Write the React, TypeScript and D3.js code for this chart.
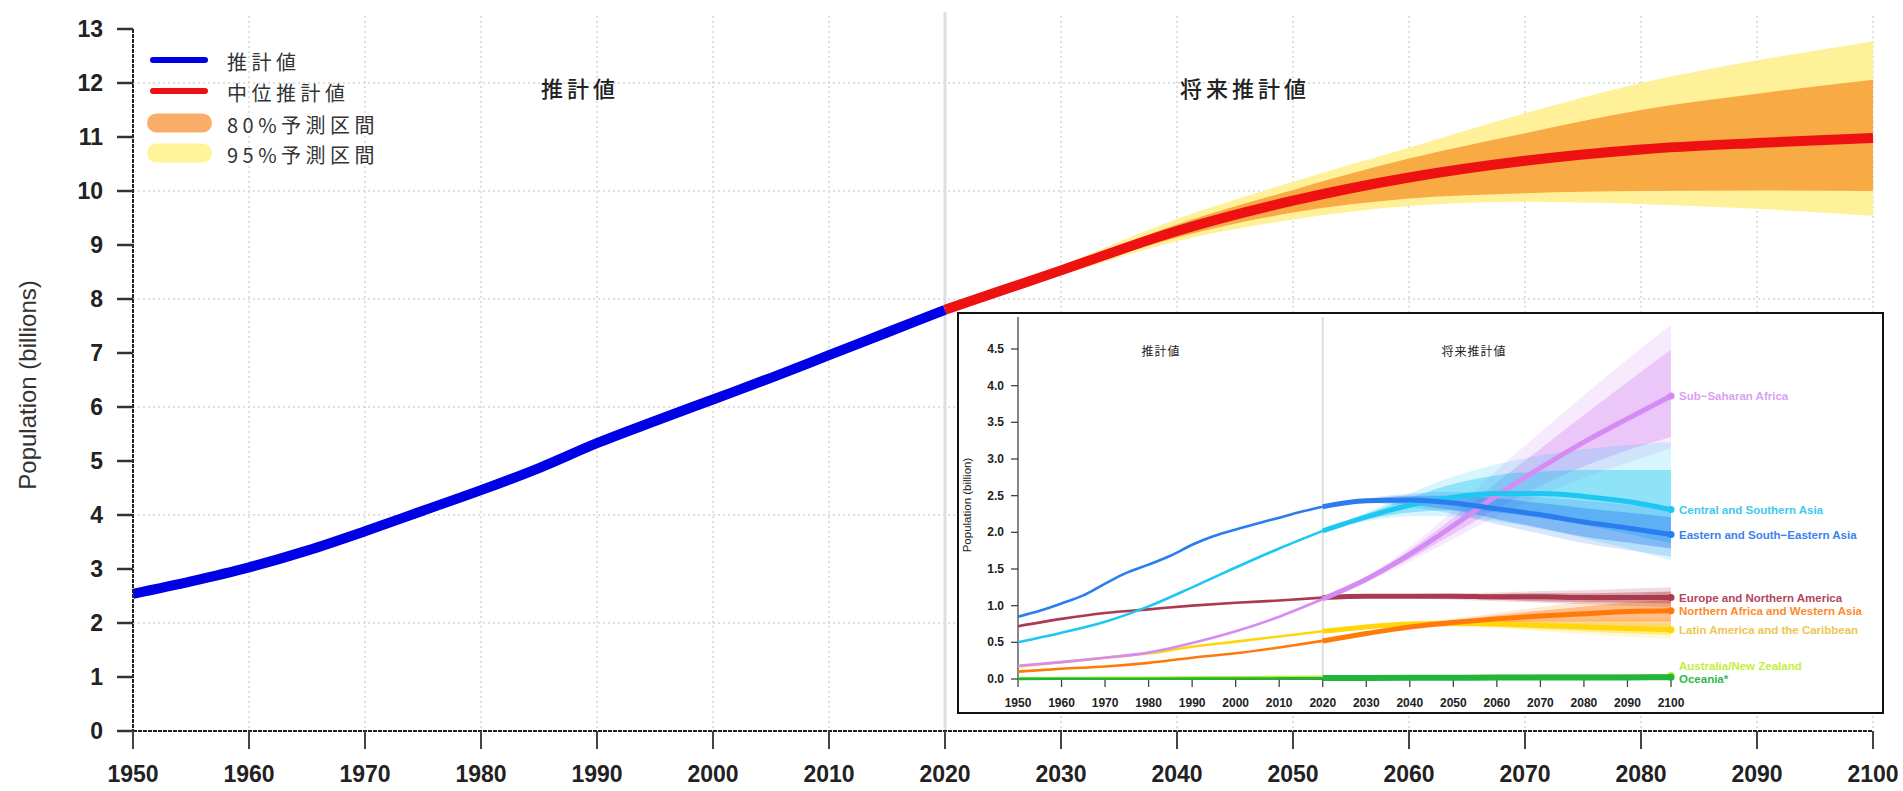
import React from "react";
import * as d3 from "d3";

const W = 1903;
const H = 791;
const FONT = "'Liberation Sans', Arial, Helvetica, sans-serif";
const CJK = "'Noto Sans CJK JP', 'Noto Sans', sans-serif";

// ---------- main chart data (world population, billions) ----------
const HIST_YEARS = [1950, 1955, 1960, 1965, 1970, 1975, 1980, 1985, 1990, 1995, 2000, 2005, 2010, 2015, 2020];
const WORLD_EST = [2.54, 2.77, 3.03, 3.34, 3.7, 4.08, 4.46, 4.87, 5.33, 5.74, 6.14, 6.54, 6.96, 7.38, 7.8];
const PROJ_YEARS = [2020, 2030, 2040, 2050, 2060, 2070, 2080, 2090, 2100];
const WORLD_MEDIAN = [7.8, 8.53, 9.26, 9.82, 10.25, 10.56, 10.77, 10.89, 10.98];
const WORLD_80_LO = [7.8, 8.47, 9.14, 9.6, 9.86, 9.96, 10.0, 10.01, 10.0];
const WORLD_80_HI = [7.8, 8.58, 9.38, 10.02, 10.6, 11.07, 11.5, 11.8, 12.06];
const WORLD_95_LO = [7.8, 8.44, 9.07, 9.47, 9.72, 9.8, 9.76, 9.67, 9.54];
const WORLD_95_HI = [7.8, 8.62, 9.48, 10.17, 10.8, 11.44, 12.0, 12.42, 12.77];
const X_TICKS = [1950, 1960, 1970, 1980, 1990, 2000, 2010, 2020, 2030, 2040, 2050, 2060, 2070, 2080, 2090, 2100];
const Y_TICKS = [0, 1, 2, 3, 4, 5, 6, 7, 8, 9, 10, 11, 12, 13];
const Y_GRID = [2, 4, 6, 8, 10, 12];
const LEGEND_LABELS = ["推計値", "中位推計値", "80%予測区間", "95%予測区間"];
const PERIOD_LABELS = ["推計値", "将来推計値"];

// ---------- inset data (SDG regions, billions) ----------
const INSET_HIST10 = [1950, 1960, 1970, 1980, 1990, 2000, 2010, 2020];
const INSET_HIST5 = [1950, 1955, 1960, 1965, 1970, 1975, 1980, 1985, 1990, 1995, 2000, 2005, 2010, 2015, 2020];
const INSET_X_TICKS = [1950, 1960, 1970, 1980, 1990, 2000, 2010, 2020, 2030, 2040, 2050, 2060, 2070, 2080, 2090, 2100];
const INSET_Y_TICKS = [0, 0.5, 1, 1.5, 2, 2.5, 3, 3.5, 4, 4.5];

const SSA = {
  name: "Sub\u2212Saharan Africa",
  hist: [0.18, 0.23, 0.29, 0.36, 0.49, 0.65, 0.85, 1.09],
  med: [1.09, 1.36, 1.7, 2.09, 2.5, 2.88, 3.23, 3.55, 3.86],
  lo80: [1.09, 1.34, 1.64, 1.98, 2.32, 2.63, 2.9, 3.12, 3.3],
  hi80: [1.09, 1.38, 1.76, 2.2, 2.68, 3.14, 3.6, 4.05, 4.49],
  lo95: [1.09, 1.32, 1.6, 1.91, 2.22, 2.5, 2.74, 2.95, 3.15],
  hi95: [1.09, 1.4, 1.8, 2.3, 2.85, 3.36, 3.87, 4.36, 4.83],
};
const CSA = {
  name: "Central and Southern Asia",
  hist: [0.5, 0.63, 0.78, 0.99, 1.25, 1.52, 1.78, 2.02],
  med: [2.02, 2.21, 2.37, 2.48, 2.53, 2.53, 2.49, 2.42, 2.31],
  lo80: [2.02, 2.17, 2.27, 2.3, 2.27, 2.2, 2.1, 1.98, 1.85],
  hi80: [2.02, 2.25, 2.47, 2.66, 2.78, 2.83, 2.85, 2.85, 2.85],
  lo95: [2.02, 2.15, 2.22, 2.22, 2.15, 2.05, 1.92, 1.78, 1.62],
  hi95: [2.02, 2.27, 2.53, 2.76, 2.93, 3.05, 3.13, 3.19, 3.23],
};
const ESEA = {
  name: "Eastern and South\u2212Eastern Asia",
  hist: [0.85, 0.93, 1.03, 1.14, 1.3, 1.45, 1.56, 1.68, 1.83, 1.95, 2.04, 2.12, 2.2, 2.28, 2.35],
  med: [2.35, 2.43, 2.44, 2.4, 2.32, 2.24, 2.14, 2.06, 1.97],
  lo80: [2.35, 2.41, 2.38, 2.3, 2.18, 2.06, 1.94, 1.86, 1.78],
  hi80: [2.35, 2.45, 2.5, 2.5, 2.46, 2.4, 2.33, 2.27, 2.21],
  lo95: [2.35, 2.4, 2.35, 2.25, 2.11, 1.98, 1.85, 1.76, 1.67],
  hi95: [2.35, 2.46, 2.53, 2.55, 2.53, 2.48, 2.43, 2.38, 2.33],
};
const ENA = {
  name: "Europe and Northern America",
  hist: [0.72, 0.82, 0.9, 0.95, 1.0, 1.04, 1.07, 1.11],
  med: [1.11, 1.13, 1.13, 1.13, 1.12, 1.12, 1.11, 1.11, 1.11],
  lo80: [1.11, 1.12, 1.11, 1.1, 1.08, 1.06, 1.05, 1.04, 1.03],
  hi80: [1.11, 1.14, 1.15, 1.15, 1.16, 1.17, 1.17, 1.18, 1.19],
  lo95: [1.11, 1.11, 1.1, 1.08, 1.06, 1.04, 1.02, 1.0, 0.98],
  hi95: [1.11, 1.14, 1.16, 1.17, 1.18, 1.2, 1.21, 1.23, 1.25],
};
const NAWA = {
  name: "Northern Africa and Western Asia",
  hist: [0.1, 0.14, 0.17, 0.22, 0.29, 0.35, 0.43, 0.52],
  med: [0.52, 0.62, 0.71, 0.77, 0.82, 0.86, 0.89, 0.92, 0.93],
  lo80: [0.52, 0.61, 0.69, 0.74, 0.77, 0.78, 0.78, 0.78, 0.78],
  hi80: [0.52, 0.63, 0.73, 0.8, 0.87, 0.93, 0.99, 1.04, 1.08],
  lo95: [0.52, 0.6, 0.68, 0.72, 0.74, 0.74, 0.73, 0.71, 0.68],
  hi95: [0.52, 0.64, 0.74, 0.82, 0.9, 0.98, 1.06, 1.13, 1.2],
};
const LAC = {
  name: "Latin America and the Caribbean",
  hist: [0.17, 0.23, 0.29, 0.35, 0.44, 0.51, 0.58, 0.65],
  med: [0.65, 0.71, 0.75, 0.76, 0.75, 0.73, 0.71, 0.69, 0.67],
  lo80: [0.65, 0.7, 0.73, 0.73, 0.71, 0.68, 0.65, 0.62, 0.6],
  hi80: [0.65, 0.72, 0.77, 0.79, 0.79, 0.78, 0.77, 0.77, 0.76],
  lo95: [0.65, 0.7, 0.72, 0.71, 0.69, 0.65, 0.61, 0.58, 0.55],
  hi95: [0.65, 0.72, 0.78, 0.81, 0.81, 0.81, 0.81, 0.82, 0.82],
};
const ANZ = {
  name: "Australia/New Zealand",
  hist: [0.01, 0.012, 0.015, 0.017, 0.02, 0.023, 0.026, 0.03],
  med: [0.03, 0.033, 0.036, 0.039, 0.041, 0.043, 0.045, 0.047, 0.049],
  lo80: [0.03, 0.032, 0.035, 0.037, 0.038, 0.039, 0.04, 0.041, 0.041],
  hi80: [0.03, 0.034, 0.037, 0.041, 0.044, 0.047, 0.05, 0.053, 0.056],
  lo95: [0.03, 0.032, 0.034, 0.036, 0.037, 0.037, 0.038, 0.038, 0.037],
  hi95: [0.03, 0.034, 0.038, 0.042, 0.046, 0.05, 0.054, 0.058, 0.061],
};
const OCE = {
  name: "Oceania*",
  hist: [0.002, 0.003, 0.003, 0.004, 0.005, 0.006, 0.008, 0.01],
  med: [0.012, 0.014, 0.016, 0.017, 0.019, 0.02, 0.021, 0.022, 0.023],
  lo80: [0.012, 0.013, 0.015, 0.016, 0.017, 0.018, 0.018, 0.019, 0.019],
  hi80: [0.012, 0.015, 0.017, 0.018, 0.02, 0.022, 0.024, 0.025, 0.027],
  lo95: [0.012, 0.013, 0.014, 0.015, 0.016, 0.017, 0.017, 0.017, 0.017],
  hi95: [0.012, 0.015, 0.017, 0.019, 0.021, 0.023, 0.025, 0.027, 0.029],
};
const INSET_SERIES = [ANZ, OCE, LAC, NAWA, ENA, SSA, CSA, ESEA];
const INSET_HIST_YEARS = [INSET_HIST10, INSET_HIST10, INSET_HIST10, INSET_HIST10, INSET_HIST10, INSET_HIST10, INSET_HIST10, INSET_HIST5];
const INSET_COLORS = ["#b8f020", "#22b53c", "#ffd60a", "#ff7a0a", "#ab3a50", "#d48cf2", "#1ec6f2", "#2a7cef"];
const INSET_LABEL_COLORS = ["#c2ef3c", "#2fb848", "#f0c54e", "#ff8a2a", "#b4455c", "#d9a2f0", "#3ccaf0", "#3b82ee"];
const INSET_LABEL_DY = [-9, 2, 0, 0, 0, 0, 0, 0];
const INSET_PROJ_WIDTH = [2.5, 6, 5, 5, 5, 5, 5, 5];

function lineGen(years: number[], sx: any, sy: any) {
  return d3
    .line<number>()
    .x((_, i) => sx(years[i]))
    .y((d) => sy(d))
    .curve(d3.curveMonotoneX);
}
function areaGen(years: number[], lo: number[], sx: any, sy: any) {
  return d3
    .area<number>()
    .x((_, i) => sx(years[i]))
    .y0((_, i) => sy(lo[i]))
    .y1((d) => sy(d))
    .curve(d3.curveMonotoneX);
}

export default function App() {
  const x = d3.scaleLinear().domain([1950, 2100]).range([133, 1873]);
  const y = d3.scaleLinear().domain([0, 13]).range([731, 29]);

  const ix = d3.scaleLinear().domain([1950, 2100]).range([1018, 1671]);
  const iy = d3.scaleLinear().domain([0, 4.5]).range([679, 349]);

  const legendY = [60, 91, 123, 153];

  return (
    <svg
      width={W}
      height={H}
      viewBox={`0 0 ${W} ${H}`}
      style={{ position: "absolute", left: 0, top: 0, background: "#fff" }}
    >
      <rect x={0} y={0} width={W} height={H} fill="#fff" />

      {/* grid */}
      {X_TICKS.slice(1).map((t) => (
        <line key={"vg" + t} x1={x(t)} x2={x(t)} y1={16} y2={731} stroke="#d6d6d6" strokeWidth={1.5} strokeDasharray="2,3" />
      ))}
      {Y_GRID.map((t) => (
        <line key={"hg" + t} x1={133} x2={1873} y1={y(t)} y2={y(t)} stroke="#d6d6d6" strokeWidth={1.5} strokeDasharray="2,3" />
      ))}
      <line x1={x(2020)} x2={x(2020)} y1={12} y2={731} stroke="#dedede" strokeWidth={3} />

      {/* prediction intervals */}
      <path d={areaGen(PROJ_YEARS, WORLD_95_LO, x, y)(WORLD_95_HI) || ""} fill="#fff09a" />
      <path d={areaGen(PROJ_YEARS, WORLD_80_LO, x, y)(WORLD_80_HI) || ""} fill="#f8ab45" />

      {/* lines */}
      <path d={lineGen(HIST_YEARS, x, y)(WORLD_EST) || ""} fill="none" stroke="#0000e6" strokeWidth={10} />
      <path d={lineGen(PROJ_YEARS, x, y)(WORLD_MEDIAN) || ""} fill="none" stroke="#ee1111" strokeWidth={10} />

      {/* axes */}
      <line x1={133} x2={133} y1={y(13)} y2={y(0)} stroke="#222" strokeWidth={2} strokeDasharray="4,1" />
      <line x1={133} x2={1873} y1={y(0)} y2={y(0)} stroke="#222" strokeWidth={2} strokeDasharray="4,1" />
      {Y_TICKS.map((t) => (
        <g key={"yt" + t}>
          <line x1={117} x2={133} y1={y(t)} y2={y(t)} stroke="#333" strokeWidth={2.5} />
          <text x={103} y={y(t)} textAnchor="end" dominantBaseline="central" fontFamily={FONT} fontWeight="bold" fontSize={23} fill="#222">
            {t}
          </text>
        </g>
      ))}
      {X_TICKS.map((t) => (
        <g key={"xt" + t}>
          <line x1={x(t)} x2={x(t)} y1={731} y2={749} stroke="#444" strokeWidth={2} />
          <text x={x(t)} y={774} textAnchor="middle" dominantBaseline="central" fontFamily={FONT} fontWeight="bold" fontSize={23} fill="#222">
            {t}
          </text>
        </g>
      ))}
      <text
        transform={`translate(27,385) rotate(-90)`}
        textAnchor="middle"
        dominantBaseline="central"
        fontFamily={FONT}
        fontSize={24}
        fill="#333"
      >
        Population (billions)
      </text>

      {/* period labels */}
      <text x={580} y={87} textAnchor="middle" dominantBaseline="central" fontFamily={CJK} fontWeight={500} fontSize={22} letterSpacing={4} fill="#222">
        {PERIOD_LABELS[0]}
      </text>
      <text x={1245} y={87} textAnchor="middle" dominantBaseline="central" fontFamily={CJK} fontWeight={500} fontSize={22} letterSpacing={4} fill="#222">
        {PERIOD_LABELS[1]}
      </text>

      {/* legend */}
      <line x1={153} x2={205} y1={legendY[0]} y2={legendY[0]} stroke="#0000e6" strokeWidth={6} strokeLinecap="round" />
      <line x1={153} x2={205} y1={legendY[1]} y2={legendY[1]} stroke="#ee1111" strokeWidth={6} strokeLinecap="round" />
      <rect x={147} y={legendY[2] - 9.5} width={65} height={19} rx={9.5} fill="#f9ad68" />
      <rect x={147} y={legendY[3] - 9.5} width={65} height={19} rx={9.5} fill="#fff49a" />
      {LEGEND_LABELS.map((s, i) => (
        <text key={"lg" + i} x={227} y={legendY[i] + 1} dominantBaseline="central" fontFamily={CJK} fontSize={20} letterSpacing={4.5} fill="#333">
          {s}
        </text>
      ))}

      {/* ---------------- inset ---------------- */}
      <rect x={958} y={313} width={925} height={400} fill="#fff" stroke="#111" strokeWidth={2} />
      <line x1={ix(2020)} x2={ix(2020)} y1={317} y2={679} stroke="#dddddd" strokeWidth={2} />

      {/* bands */}
      {INSET_SERIES.map((s, i) => (
        <g key={"band" + i}>
          <path d={areaGen(PROJ_YEARS, s.lo95, ix, iy)(s.hi95) || ""} fill={INSET_COLORS[i]} fillOpacity={0.18} />
          <path d={areaGen(PROJ_YEARS, s.lo80, ix, iy)(s.hi80) || ""} fill={INSET_COLORS[i]} fillOpacity={0.38} />
        </g>
      ))}

      {/* axes */}
      <line x1={1018} x2={1018} y1={317} y2={679} stroke="#444" strokeWidth={1.3} />
      <line x1={1018} x2={1671} y1={679} y2={679} stroke="#444" strokeWidth={1.3} />
      {INSET_Y_TICKS.map((t) => (
        <g key={"iyt" + t}>
          <line x1={1011} x2={1018} y1={iy(t)} y2={iy(t)} stroke="#444" strokeWidth={1.3} />
          <text x={1004} y={iy(t)} textAnchor="end" dominantBaseline="central" fontFamily={FONT} fontWeight="bold" fontSize={12} fill="#222">
            {t.toFixed(1)}
          </text>
        </g>
      ))}
      {INSET_X_TICKS.map((t) => (
        <g key={"ixt" + t}>
          <line x1={ix(t)} x2={ix(t)} y1={679} y2={687} stroke="#444" strokeWidth={1.3} />
          <text x={ix(t)} y={703} textAnchor="middle" dominantBaseline="central" fontFamily={FONT} fontWeight="bold" fontSize={12} fill="#222">
            {t}
          </text>
        </g>
      ))}
      <text transform={`translate(967,505) rotate(-90)`} textAnchor="middle" dominantBaseline="central" fontFamily={FONT} fontSize={11.5} fill="#222">
        Population (billion)
      </text>
      <text x={1161} y={350} textAnchor="middle" dominantBaseline="central" fontFamily={CJK} fontSize={12} letterSpacing={1} fill="#222">
        {PERIOD_LABELS[0]}
      </text>
      <text x={1474} y={350} textAnchor="middle" dominantBaseline="central" fontFamily={CJK} fontSize={12} letterSpacing={1} fill="#222">
        {PERIOD_LABELS[1]}
      </text>

      {/* lines */}
      {INSET_SERIES.map((s, i) => (
        <g key={"ln" + i}>
          <path d={lineGen(INSET_HIST_YEARS[i], ix, iy)(s.hist) || ""} fill="none" stroke={INSET_COLORS[i]} strokeWidth={2.6} />
          <path d={lineGen(PROJ_YEARS, ix, iy)(s.med) || ""} fill="none" stroke={INSET_COLORS[i]} strokeWidth={INSET_PROJ_WIDTH[i]} />
          <circle cx={ix(2100)} cy={iy(s.med[s.med.length - 1])} r={3.5} fill={INSET_COLORS[i]} />
        </g>
      ))}

      {/* series labels */}
      {INSET_SERIES.map((s, i) => (
        <text
          key={"lb" + i}
          x={1679}
          y={iy(s.med[s.med.length - 1]) + INSET_LABEL_DY[i]}
          dominantBaseline="central"
          fontFamily={FONT}
          fontWeight="bold"
          fontSize={11.5}
          fill={INSET_LABEL_COLORS[i]}
        >
          {s.name}
        </text>
      ))}
    </svg>
  );
}
